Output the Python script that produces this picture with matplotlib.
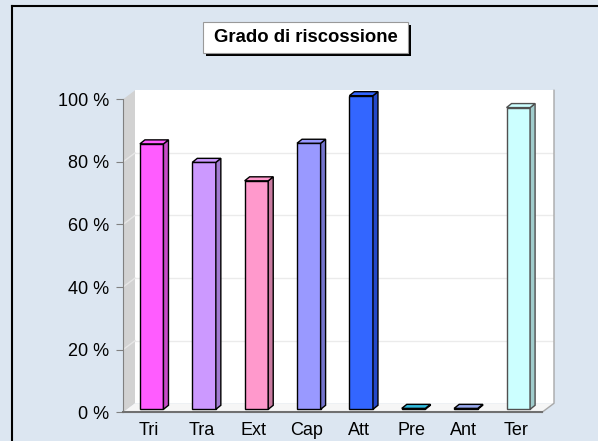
import matplotlib
matplotlib.use('Agg')
import matplotlib.pyplot as plt
from matplotlib.patches import Polygon, Rectangle
from matplotlib.lines import Line2D

plt.rcParams['font.family'] = ['Liberation Sans', 'DejaVu Sans']

categories = ['Tri', 'Tra', 'Ext', 'Cap', 'Att', 'Pre', 'Ant', 'Ter']
values = [84.8, 78.9, 73.0, 85.0, 100.2, 0.3, 0.3, 96.4]
front_colors = ['#ff5cff', '#cc99ff', '#ff99cc', '#9999ff', '#3366ff', '#33bbdd', '#99aaee', '#ccffff']
side_colors = ['#c94bc9', '#a07ad0', '#c87aa0', '#7474cc', '#2448c8', '#2890b0', '#7a88c0', '#a0cccc']
edge_colors = ['black', 'black', 'black', 'black', 'black', 'black', 'black', '#505050']
yticks = [0, 20, 40, 60, 80, 100]


def pseudo3d_bars(ax, ux, uy):
    ''' bars with a side and a top face, offsets given in pixels'''
    fx, fy = 2.5 / ux, 3 / uy      # bar position inside the floor depth
    bx, by = 5 / ux, 4 / uy        # depth of one bar
    w = 0.45
    xs = [i + fx for i in range(len(values))]
    ax.bar(xs, values, width=w, bottom=fy, color=front_colors,
           edgecolor=edge_colors, linewidth=1, zorder=3, clip_on=False)
    for x, v, sc, fc, ec in zip(xs, values, side_colors, front_colors, edge_colors):
        r = x + w / 2
        l = x - w / 2
        side = [(r, fy), (r + bx, fy + by), (r + bx, fy + v + by), (r, fy + v)]
        top = [(l, fy + v), (r, fy + v), (r + bx, fy + v + by), (l + bx, fy + v + by)]
        ax.add_patch(Polygon(side, closed=True, fc=sc, ec=ec, lw=1, zorder=3, clip_on=False))
        ax.add_patch(Polygon(top, closed=True, fc=fc, ec=ec, lw=1, zorder=3, clip_on=False))


def main():
    fig = plt.figure(figsize=(5.98, 4.41), dpi=100, facecolor='#dce6f1')
    ax = fig.add_axes([123 / 598, (441 - 412.3) / 441, 419 / 598, 313 / 441])
    n = len(categories)
    ax.set_xlim(-0.5, n - 0.5)
    ax.set_ylim(0, 100)
    ax.patch.set_visible(False)

    ux = 419 / n          # pixels per category
    uy = 313 / 100        # pixels per percent
    wx, wy = 12 / ux, 9 / uy
    x0, x1 = -0.5, n - 0.5

    # walls and floor
    ax.add_patch(Polygon([(x0 + wx, wy), (x1 + wx, wy), (x1 + wx, 100 + wy), (x0 + wx, 100 + wy)],
                         closed=True, fc='white', ec='none', zorder=0.1, clip_on=False))
    ax.add_patch(Polygon([(x0, 0), (x0, 100), (x0 + wx, 100 + wy), (x0 + wx, wy)],
                         closed=True, fc='#d2d2d2', ec='none', zorder=0.2, clip_on=False))
    for v in yticks[1:-1]:
        ax.plot([x0 + wx, x1 + wx], [v + wy, v + wy], color='#ebebeb', lw=1, zorder=0.3, clip_on=False)
        ax.plot([x0, x0 + wx], [v, v + wy], color='#e6e6e6', lw=1, zorder=0.3, clip_on=False)
    ax.add_patch(Polygon([(x0, 0), (x1, 0), (x1 + wx, wy), (x0 + wx, wy)],
                         closed=True, fc='#f6f6f6', ec='none', zorder=0.4, clip_on=False))
    ax.plot([x1, x1 + wx, x1 + wx], [0, wy, 100 + wy], color='#a8a8a8', lw=1, zorder=0.5, clip_on=False)

    pseudo3d_bars(ax, ux, uy)

    for s in ['top', 'right']:
        ax.spines[s].set_visible(False)
    ax.spines['left'].set_color('#808080')
    ax.spines['bottom'].set_color('#707070')
    ax.spines['bottom'].set_linewidth(1.5)

    ax.set_yticks(yticks)
    ax.set_yticklabels([f'{v} %' for v in yticks], fontsize=13)
    ax.tick_params(axis='y', length=5, color='#808080', pad=5)
    ax.set_xticks(range(n))
    ax.set_xticklabels(categories, fontsize=13)
    ax.tick_params(axis='x', length=0, pad=7)

    # outer frame, only top and left edge are inside the picture
    top_y = (441 - 6) / 441
    fig.add_artist(Line2D([12 / 598, 1.0], [top_y, top_y], color='black', lw=1.5,
                          transform=fig.transFigure))
    fig.add_artist(Line2D([12 / 598, 12 / 598], [0.0, top_y], color='black', lw=1.5,
                          transform=fig.transFigure))

    # title box with shadow
    fig.add_artist(Rectangle((206 / 598, (441 - 56) / 441), 205 / 598, 31 / 441,
                             fc='black', ec='none', transform=fig.transFigure))
    fig.add_artist(Rectangle((203 / 598, (441 - 53) / 441), 205 / 598, 31 / 441,
                             fc='white', ec='#999999', lw=0.8, transform=fig.transFigure))
    fig.text(305.5 / 598, (441 - 37.5) / 441, 'Grado di riscossione', ha='center', va='center',
             fontsize=13.3, fontweight='bold')

    fig.savefig('out.png', dpi=100, facecolor=fig.get_facecolor())


if __name__ == '__main__':
    main()
